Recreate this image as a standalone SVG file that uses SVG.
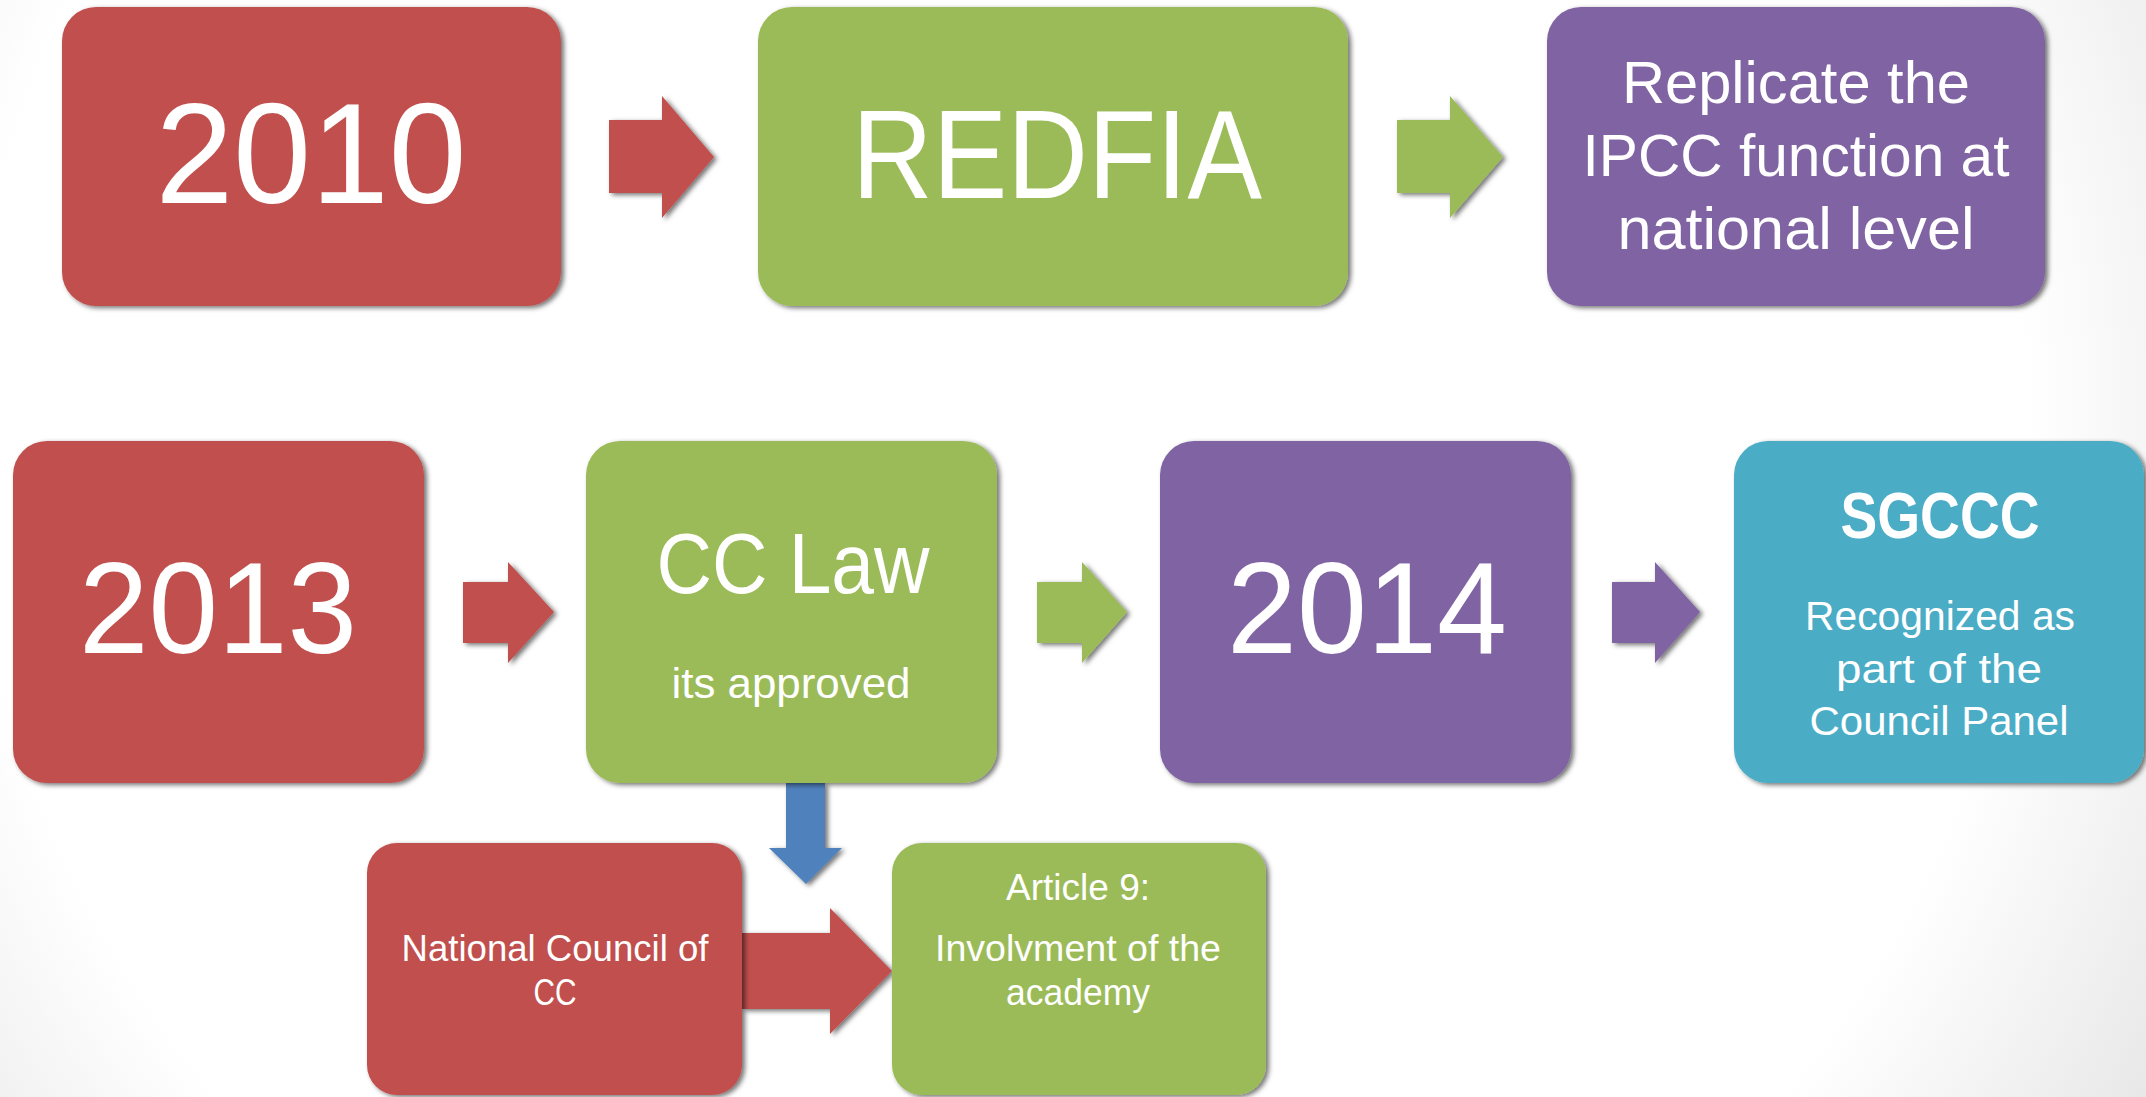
<svg xmlns="http://www.w3.org/2000/svg" width="2146" height="1097" viewBox="0 0 2146 1097">
  <defs>
    <radialGradient id="bg" gradientUnits="userSpaceOnUse" cx="1000" cy="430" r="1350">
      <stop offset="0" stop-color="#ffffff"/>
      <stop offset="0.76" stop-color="#ffffff"/>
      <stop offset="1" stop-color="#e6e6e6"/>
    </radialGradient>
    <filter id="sh" x="-10%" y="-10%" width="125%" height="125%">
      <feDropShadow dx="3" dy="2" stdDeviation="2.5" flood-color="#000" flood-opacity="0.55"/>
    </filter>
  </defs>
  <style>
    .red { fill: #C0504D; }
    .green { fill: #9BBB59; }
    .purple { fill: #8064A2; }
    .teal { fill: #4BACC6; }
    .blue { fill: #4F81BD; }
    .box, .arrow { filter: url(#sh); }
    text { font-family: "Liberation Sans", Arial, sans-serif; fill: #ffffff; text-anchor: middle; }
    .b { font-weight: bold; }
  </style>
  <rect x="0" y="0" width="2146" height="1097" fill="url(#bg)"/>

  <g id="connectors">
    <polygon class="arrow red" points="609,120 662,120 662,96 714,157 662,218 662,193 609,193"/>
    <polygon class="arrow green" points="1397,120 1450,120 1450,96 1503,157 1450,218 1450,193 1397,193"/>
    <polygon class="arrow red" points="463,582 508,582 508,562 554,612 508,663 508,643 463,643"/>
    <polygon class="arrow green" points="1037,582 1082,582 1082,562 1127,612 1082,663 1082,643 1037,643"/>
    <polygon class="arrow purple" points="1612,582 1655,582 1655,562 1700,612 1655,663 1655,643 1612,643"/>
    <polygon class="arrow blue" points="786,783 825,783 825,848 842,848 806,884 769,848 786,848"/>
    <polygon class="arrow red" points="742,933 830,933 830,908 892,971 830,1034 830,1009 742,1009"/>
  </g>

  <g id="n2010">
    <rect class="box red" x="62" y="7" width="499" height="299" rx="34"/>
    <text x="311" y="203" font-size="142" textLength="311" lengthAdjust="spacingAndGlyphs">2010</text>
  </g>
  <g id="redfia">
    <rect class="box green" x="758" y="7" width="590" height="299" rx="34"/>
    <text x="1057" y="198" font-size="127" textLength="410" lengthAdjust="spacingAndGlyphs">REDFIA</text>
  </g>
  <g id="replicate">
    <rect class="box purple" x="1547" y="7" width="498" height="299" rx="34"/>
    <text x="1796" y="103" font-size="60" textLength="348" lengthAdjust="spacingAndGlyphs">Replicate the</text>
    <text x="1796" y="176" font-size="60" textLength="427" lengthAdjust="spacingAndGlyphs">IPCC function at</text>
    <text x="1796" y="249" font-size="60" textLength="357" lengthAdjust="spacingAndGlyphs">national level</text>
  </g>

  <g id="n2013">
    <rect class="box red" x="13" y="441" width="411" height="342" rx="34"/>
    <text x="218" y="653" font-size="129" textLength="278" lengthAdjust="spacingAndGlyphs">2013</text>
  </g>
  <g id="cclaw">
    <rect class="box green" x="586" y="441" width="411" height="342" rx="34"/>
    <text x="793" y="593" font-size="85" textLength="273" lengthAdjust="spacingAndGlyphs">CC Law</text>
    <text x="791" y="698" font-size="42" textLength="239" lengthAdjust="spacingAndGlyphs">its approved</text>
  </g>
  <g id="n2014">
    <rect class="box purple" x="1160" y="441" width="411" height="342" rx="34"/>
    <text x="1367" y="653" font-size="129" textLength="280" lengthAdjust="spacingAndGlyphs">2014</text>
  </g>
  <g id="sgccc">
    <rect class="box teal" x="1734" y="441" width="410" height="342" rx="34"/>
    <text class="b" x="1940" y="538" font-size="64" textLength="199" lengthAdjust="spacingAndGlyphs">SGCCC</text>
    <text x="1940" y="630" font-size="41" textLength="270" lengthAdjust="spacingAndGlyphs">Recognized as</text>
    <text x="1939" y="683" font-size="41" textLength="206" lengthAdjust="spacingAndGlyphs">part of the</text>
    <text x="1939" y="735" font-size="41" textLength="259" lengthAdjust="spacingAndGlyphs">Council Panel</text>
  </g>

  <g id="national">
    <rect class="box red" x="367" y="843" width="375" height="252" rx="30"/>
    <text x="555" y="961" font-size="36" textLength="307" lengthAdjust="spacingAndGlyphs">National Council of</text>
    <text x="555" y="1005" font-size="36" textLength="43" lengthAdjust="spacingAndGlyphs">CC</text>
  </g>
  <g id="article9">
    <rect class="box green" x="892" y="843" width="374" height="252" rx="30"/>
    <text x="1078" y="900" font-size="36" textLength="144" lengthAdjust="spacingAndGlyphs">Article 9:</text>
    <text x="1078" y="961" font-size="36" textLength="286" lengthAdjust="spacingAndGlyphs">Involvment of the</text>
    <text x="1078" y="1005" font-size="36" textLength="144" lengthAdjust="spacingAndGlyphs">academy</text>
  </g>
</svg>
